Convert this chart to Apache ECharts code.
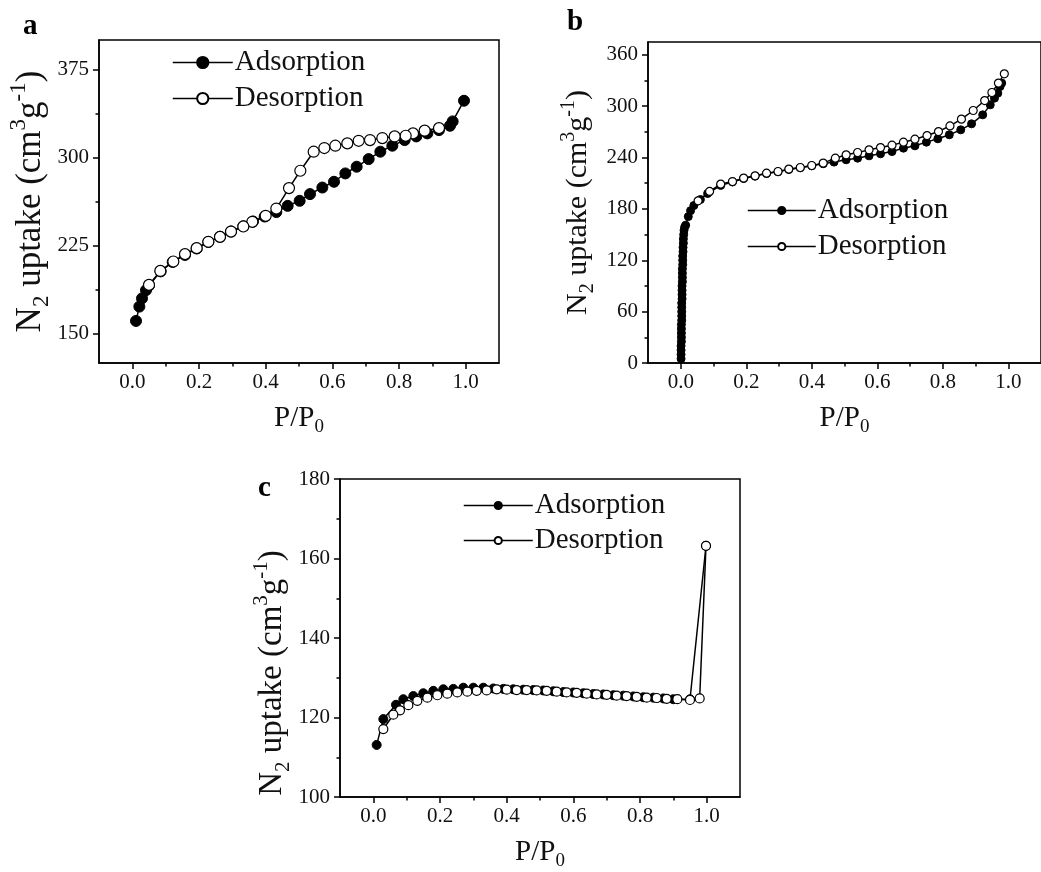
<!DOCTYPE html>
<html>
<head>
<meta charset="utf-8">
<script src="https://cdn.jsdelivr.net/npm/echarts@6/dist/echarts.min.js"></script>
<style>
html,body{margin:0;padding:0;background:#fff;}
#chart{width:1041px;height:872px;}
</style>
</head>
<body>
<div id="chart"></div>
<script>
// ---------- DATA ----------
const seriesNames = ['Adsorption', 'Desorption'];
const panelLetters = ['a', 'b', 'c'];

const xTicks = [0, 0.2, 0.4, 0.6, 0.8, 1.0];
const xMinorTicks = [0.1, 0.3, 0.5, 0.7, 0.9];

const yTicksA = [150, 225, 300, 375];
const yMinorA = [187.5, 262.5, 337.5];
const yTicksB = [0, 60, 120, 180, 240, 300, 360];
const yMinorB = [30, 90, 150, 210, 270, 330];
const yTicksC = [100, 120, 140, 160, 180];
const yMinorC = [110, 130, 150, 170];

const adsA = [[0.011,160.8],[0.021,173],[0.029,180],[0.041,187],[0.05,191],[0.085,203],[0.121,211],[0.158,217],[0.193,222.5],[0.228,228],[0.263,232.5],[0.296,237],[0.333,241.5],[0.362,245.5],[0.397,249.7],[0.432,253.5],[0.466,258.8],[0.502,263.1],[0.533,268.8],[0.57,274.4],[0.605,279.3],[0.639,286.4],[0.673,292.1],[0.709,298.6],[0.744,304.9],[0.78,310],[0.817,314.8],[0.852,317.9],[0.885,320.5],[0.92,323.3],[0.953,327],[0.961,330.7],[0.995,348.3]];
const desA = [[0.92,325],[0.877,322.8],[0.842,320.5],[0.82,318.5],[0.787,317.9],[0.75,316.5],[0.713,314.8],[0.679,314.2],[0.645,312],[0.609,310],[0.576,308],[0.544,304.9],[0.504,288.7],[0.47,273.9],[0.432,256.5],[0.4,250.3],[0.36,245.2],[0.333,241.2],[0.296,236.9],[0.263,232.4],[0.228,228.2],[0.193,222.8],[0.158,217.7],[0.123,211.4],[0.084,203.4],[0.05,191.5]];

const adsB = [[0.001,5],[0.001,10],[0.001,15],[0.001,20],[0.002,25],[0.002,30],[0.002,35],[0.002,40],[0.002,45],[0.003,50],[0.003,55],[0.003,60],[0.003,65],[0.003,70],[0.004,75],[0.004,80],[0.004,85],[0.004,90],[0.005,95],[0.005,100],[0.005,105],[0.005,110],[0.006,115],[0.006,120],[0.006,125],[0.007,130],[0.007,135],[0.008,140],[0.008,145],[0.009,150],[0.010,155],[0.012,159],[0.015,161],[0.023,171],[0.03,178],[0.04,184],[0.06,191],[0.082,198],[0.122,207.5],[0.158,211.5],[0.192,215.5],[0.227,218.3],[0.262,221.3],[0.297,223.3],[0.33,226],[0.365,228],[0.4,230.3],[0.435,232.8],[0.468,234.7],[0.505,237.4],[0.54,239.3],[0.575,242],[0.61,244.4],[0.645,247],[0.68,251],[0.715,253.7],[0.75,258],[0.785,261.9],[0.82,266.6],[0.855,272.4],[0.888,279.4],[0.922,289.9],[0.945,301.6],[0.958,309.4],[0.968,315.2],[0.975,323],[0.98,327]];
const desB = [[0.988,337.8],[0.97,327],[0.95,316],[0.928,306.6],[0.893,295],[0.857,284.9],[0.822,277],[0.787,270.4],[0.752,265.7],[0.715,261.5],[0.68,258],[0.645,254.5],[0.61,251.7],[0.575,249],[0.54,245.9],[0.505,243.2],[0.472,239.3],[0.435,233.5],[0.4,230.7],[0.365,228.4],[0.33,226.5],[0.297,223.7],[0.262,221.8],[0.227,218.7],[0.192,216],[0.158,212],[0.122,209],[0.088,200.4],[0.053,189.5]];

const adsC = [[0.01,113.1],[0.03,119.6],[0.068,123.2],[0.09,124.6],[0.12,125.4],[0.15,126.1],[0.18,126.7],[0.21,127.1],[0.24,127.2],[0.27,127.5],[0.3,127.5],[0.33,127.5],[0.36,127.3],[0.39,127.2],[0.42,127.1],[0.45,127],[0.48,126.9],[0.51,126.8],[0.54,126.6],[0.57,126.4],[0.6,126.3],[0.63,126.1],[0.66,125.9],[0.69,125.8],[0.72,125.6],[0.75,125.5],[0.78,125.3],[0.81,125.1],[0.84,125],[0.87,124.8],[0.9,124.6],[0.95,124.6],[0.998,163.2]];
const desC = [[0.998,163.2],[0.979,124.8],[0.95,124.4],[0.912,124.6],[0.88,124.7],[0.85,124.9],[0.82,125],[0.79,125.2],[0.76,125.4],[0.73,125.5],[0.7,125.7],[0.67,125.8],[0.64,126],[0.61,126.2],[0.58,126.3],[0.55,126.5],[0.52,126.7],[0.49,126.8],[0.46,126.9],[0.43,126.9],[0.4,127],[0.37,127.1],[0.34,126.8],[0.31,126.7],[0.282,126.5],[0.252,126.3],[0.222,126],[0.192,125.6],[0.162,125],[0.132,124.2],[0.105,123.1],[0.08,121.8],[0.06,120.7],[0.03,117.1]];

const xName = 'P/P{sub|0}';
const yName = 'N{sub|2} uptake (cm{sup|3}g{sup|-1})';

// ---------- STYLE / LAYOUT ----------
const FONT = '"Liberation Serif", "Times New Roman", serif';
const INK = '#111';
function nameStyle(F, shift) {
  const S = Math.round(F * 0.65);
  return {
    fontFamily: FONT, fontSize: F, color: INK, lineHeight: Math.round(F * 1.3),
    padding: shift ? [0, shift, 0, 0] : 0,
    rich: {
      sub: { fontFamily: FONT, fontSize: S, lineHeight: S, verticalAlign: 'bottom', color: INK },
      sup: { fontFamily: FONT, fontSize: S, lineHeight: Math.round(S * 1.25), verticalAlign: 'top', color: INK }
    }
  };
}

const panels = [
  { grid: { left: 99, top: 40, width: 400, height: 323 }, ymin: 125, ymax: 400, yt: yTicksA, ym: yMinorA,
    ads: adsA, des: desA, sym: 11, yF: 35, yGap: 45, yShift: 0, xGap: 36,
    legend: { left: 172, top: 48, itemWidth: 60, itemHeight: 14, itemGap: 7 } },
  { grid: { left: 648, top: 42, width: 400, height: 321 }, ymin: 0, ymax: 375, yt: yTicksB, ym: yMinorB,
    ads: adsB, des: desB, sym: 8, yF: 30, yGap: 50, yShift: 0, xGap: 36,
    legend: { left: 747, top: 196, itemWidth: 68, itemHeight: 9, itemGap: 7 } },
  { grid: { left: 340, top: 479, width: 400, height: 321 }, ymin: 100, ymax: 180, yt: yTicksC, ym: yMinorC,
    ads: adsC, des: desC, sym: 9, yF: 33, yGap: 46, yShift: 70, xGap: 36,
    legend: { left: 463, top: 491, itemWidth: 69, itemHeight: 9, itemGap: 6 } }
];

const axisLineStyle = { color: '#000', width: 1.5 };
const grids = [], xAxes = [], yAxes = [], series = [], legends = [];

panels.forEach((p, i) => {
  grids.push(Object.assign({ show: true, borderColor: '#000', borderWidth: 1.5, backgroundColor: 'transparent' }, p.grid));
  // main x axis
  xAxes.push({
    type: 'value', gridIndex: i, position: 'bottom', min: -0.1, max: 1.1,
    axisLine: { show: true, onZero: false, lineStyle: axisLineStyle },
    axisTick: { show: true, customValues: xTicks, length: 6, lineStyle: axisLineStyle },
    axisLabel: { customValues: xTicks, formatter: v => Number(v).toFixed(1), fontFamily: FONT, fontSize: 21, color: INK, margin: 9 },
    splitLine: { show: false },
    name: xName, nameLocation: 'middle', nameGap: p.xGap, nameTextStyle: nameStyle(29, 0)
  });
  // minor x ticks
  xAxes.push({
    type: 'value', gridIndex: i, position: 'bottom', min: -0.1, max: 1.1,
    axisLine: { show: false, onZero: false },
    axisTick: { show: true, customValues: xMinorTicks, length: 3.5, lineStyle: axisLineStyle },
    axisLabel: { show: false }, splitLine: { show: false }
  });
  yAxes.push({
    type: 'value', gridIndex: i, position: 'left', min: p.ymin, max: p.ymax,
    axisLine: { show: true, onZero: false, lineStyle: axisLineStyle },
    axisTick: { show: true, customValues: p.yt, length: 6, lineStyle: axisLineStyle },
    axisLabel: { customValues: p.yt, formatter: v => String(Math.round(v)), fontFamily: FONT, fontSize: 21, color: INK, margin: 10 },
    splitLine: { show: false },
    name: yName, nameLocation: 'middle', nameGap: p.yGap, nameRotate: 90, nameTextStyle: nameStyle(p.yF, p.yShift)
  });
  // minor y ticks
  yAxes.push({
    type: 'value', gridIndex: i, position: 'left', min: p.ymin, max: p.ymax,
    axisLine: { show: false, onZero: false },
    axisTick: { show: true, customValues: p.ym, length: 3.5, lineStyle: axisLineStyle },
    axisLabel: { show: false }, splitLine: { show: false }
  });
  series.push({
    name: seriesNames[0], type: 'line', xAxisIndex: 2 * i, yAxisIndex: 2 * i, data: p.ads,
    symbol: 'circle', symbolSize: p.sym, showAllSymbol: true,
    lineStyle: { color: '#000', width: 1.5 },
    itemStyle: { color: '#000', borderColor: '#000', borderWidth: 1 },
    emphasis: { disabled: true }, z: 2
  });
  series.push({
    name: seriesNames[1], type: 'line', xAxisIndex: 2 * i, yAxisIndex: 2 * i, data: p.des,
    symbol: 'circle', symbolSize: p.sym, showAllSymbol: true,
    lineStyle: { color: '#000', width: 1.5 },
    itemStyle: { color: '#fff', borderColor: '#000', borderWidth: 1.2 },
    emphasis: { disabled: true }, z: 3
  });
  legends.push(Object.assign({
    orient: 'vertical', data: seriesNames, selectedMode: false, padding: 0,
    textStyle: { fontFamily: FONT, fontSize: 29, color: INK, padding: [0, 0, 0, -3] },
    lineStyle: { width: 1.5, color: '#000' }
  }, p.legend));
});

const letterPos = [[23, 27], [567, 23], [258, 489]];
const graphics = panelLetters.map((t, i) => ({
  type: 'text', x: letterPos[i][0], y: letterPos[i][1],
  style: { text: t, font: 'bold 29px ' + FONT, fill: '#000', verticalAlign: 'middle', align: 'left' }
}));

const chart = echarts.init(document.getElementById('chart'), null, { renderer: 'canvas' });
chart.setOption({
  animation: false,
  backgroundColor: '#fff',
  grid: grids,
  xAxis: xAxes,
  yAxis: yAxes,
  legend: legends,
  series: series,
  graphic: graphics
});
</script>
</body>
</html>
